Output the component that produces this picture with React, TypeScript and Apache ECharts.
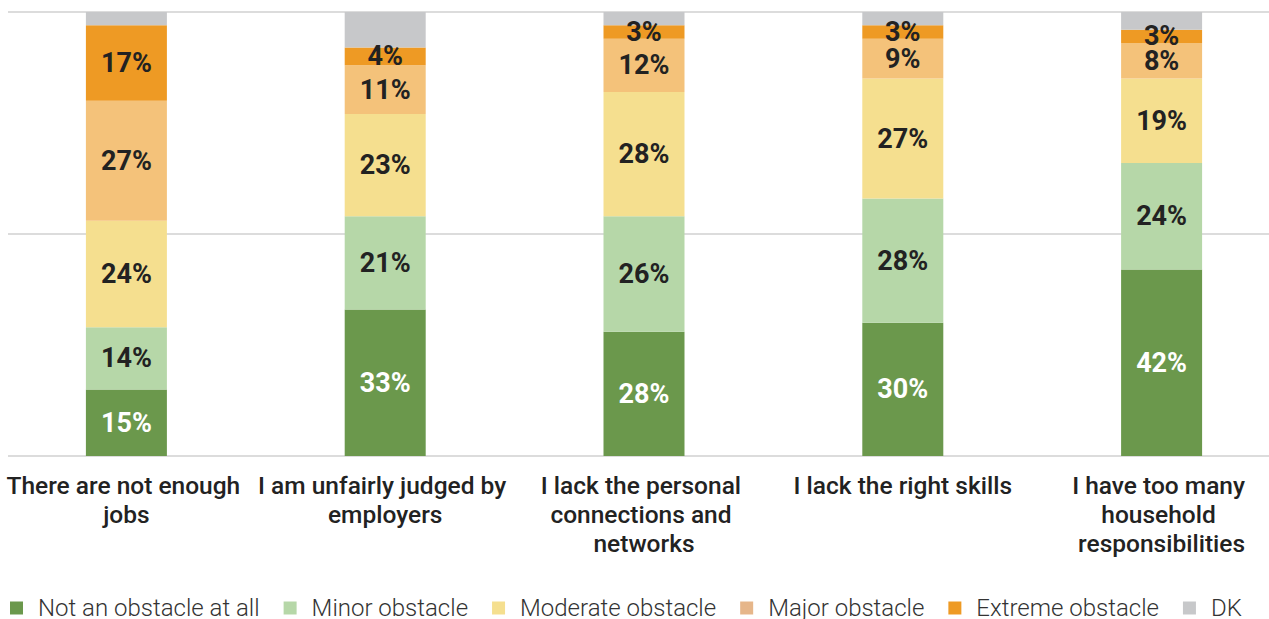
import React, { useEffect, useRef } from "react";
import * as echarts from "echarts";

const categories = [
  "There are not enough jobs",
  "I am unfairly judged by employers",
  "I lack the personal connections and networks",
  "I lack the right skills",
  "I have too many household responsibilities",
];
const seriesNames = [
  "Not an obstacle at all",
  "Minor obstacle",
  "Moderate obstacle",
  "Major obstacle",
  "Extreme obstacle",
  "DK",
];
const notObstacle = [15, 33, 28, 30, 42];
const minor = [14, 21, 26, 28, 24];
const moderate = [24, 23, 28, 27, 19];
const major = [27, 11, 12, 9, 8];
const extreme = [17, 4, 3, 3, 3];
const dk = [3, 8, 3, 3, 4];
const values = [notObstacle, minor, moderate, major, extreme, dk];
const colors = ["#6b984c", "#b6d7a8", "#f5df8f", "#f4c27a", "#ee9a24", "#c7c8ca"];
const legendColors = ["#6b984c", "#b6d7a8", "#f5df8f", "#e6b68a", "#ee9a24", "#c7c8ca"];
const labelColors = ["#ffffff", "#222222", "#222222", "#222222", "#222222", "#222222"];

export default function App() {
  const ref = useRef<HTMLDivElement>(null);
  useEffect(() => {
    if (!ref.current) return;
    const chart = echarts.init(ref.current, null, { renderer: "svg" });
    const font = "Roboto";
    chart.setOption({
      animation: false,
      textStyle: { fontFamily: font },
      grid: [
        { left: -3, right: -22, top: 12, bottom: 163, containLabel: false, outerBoundsMode: "none" },
        { left: 8, right: 0, top: 12, bottom: 163, containLabel: false, outerBoundsMode: "none" },
      ],
      xAxis: [
        {
          type: "category",
          gridIndex: 0,
          data: categories,
          axisLine: { show: false },
          axisTick: { show: false },
          axisLabel: {
            interval: 0,
            width: 256,
            overflow: "break",
            fontSize: 24.5,
            fontWeight: 500,
            lineHeight: 29,
            color: "#222222",
            fontFamily: font,
            margin: 15,
          },
        },
        { type: "value", gridIndex: 1, show: false, min: 0, max: 1 },
      ],
      yAxis: [
        { type: "value", gridIndex: 0, min: 0, max: 100, interval: 50, show: false },
        {
          type: "value",
          gridIndex: 1,
          min: 0,
          max: 100,
          interval: 50,
          axisLine: { show: false },
          axisTick: { show: false },
          axisLabel: { show: false },
          splitLine: { show: true, lineStyle: { color: "#dcdcdc", width: 2 } },
        },
      ],
      legend: {
        left: 10,
        top: 596,
        padding: 0,
        icon: "rect",
        itemWidth: 13,
        itemHeight: 13,
        itemGap: 24,
        textStyle: {
          fontSize: 24,
          fontWeight: 300,
          lineHeight: 24,
          color: "#333333",
          fontFamily: font,
          padding: [0, 0, 0, 10],
        },
        data: seriesNames.map((n, i) => ({ name: n, itemStyle: { color: legendColors[i] } })),
      },
      series: seriesNames.map((name, i) => ({
        name,
        type: "bar",
        stack: "total",
        xAxisIndex: 0,
        yAxisIndex: 0,
        barWidth: 81,
        data: values[i],
        itemStyle: { color: colors[i] },
        label: {
          show: name !== "DK",
          position: "inside",
          formatter: "{c}%",
          fontSize: 27,
          fontWeight: "bold",
          color: labelColors[i],
          fontFamily: font,
        },
      })),
    });
    return () => chart.dispose();
  }, []);
  return (
    <div
      ref={ref}
      style={{ position: "absolute", left: 0, top: 0, width: 1269, height: 619 }}
    />
  );
}
